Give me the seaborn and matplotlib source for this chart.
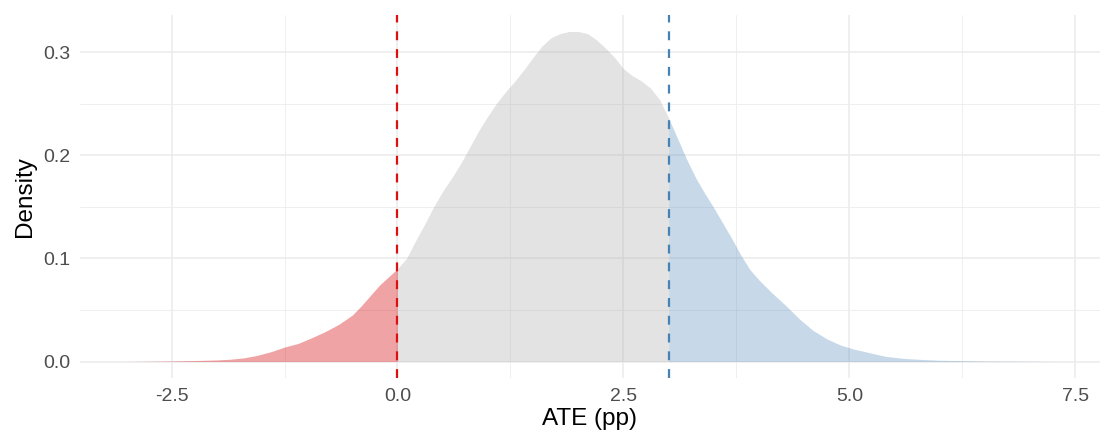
import numpy as np
import pandas as pd
import matplotlib
matplotlib.use('Agg')
import matplotlib.pyplot as plt
import seaborn as sns

# Density of the ATE (pp)
ate = [-3.0, -2.75, -2.5, -2.25, -2.0, -1.85, -1.7, -1.55, -1.4, -1.25, -1.1, -0.95, -0.8,
       -0.65, -0.5, -0.4, -0.3, -0.2, -0.1, 0.0,
       0.1, 0.2, 0.3, 0.4, 0.5, 0.6, 0.7, 0.8, 0.9, 1.0, 1.1, 1.2, 1.3, 1.4, 1.5,
       1.6, 1.7, 1.8, 1.9, 2.0, 2.1, 2.2, 2.3, 2.4, 2.5, 2.6, 2.7, 2.8, 2.9, 3.0,
       3.1, 3.2, 3.3, 3.4, 3.5, 3.6, 3.7, 3.8, 3.9, 4.0, 4.15, 4.3, 4.45, 4.6, 4.75,
       4.9, 5.05, 5.2, 5.4, 5.6, 5.8, 6.0, 6.5, 7.0, 7.26]
density = [0.0, 0.0002, 0.0005, 0.0009, 0.0015, 0.0022, 0.0035, 0.006, 0.0095, 0.014, 0.0175, 0.023, 0.029,
           0.036, 0.045, 0.054, 0.064, 0.074, 0.082, 0.090,
           0.100, 0.117, 0.133, 0.150, 0.165, 0.178, 0.192, 0.208, 0.224, 0.238, 0.251, 0.262, 0.272, 0.283, 0.295,
           0.306, 0.314, 0.318, 0.320, 0.320, 0.318, 0.312, 0.304, 0.295, 0.284, 0.277, 0.272, 0.265, 0.254, 0.236,
           0.216, 0.196, 0.178, 0.163, 0.149, 0.134, 0.119, 0.103, 0.089, 0.079, 0.066, 0.054, 0.041, 0.030, 0.022,
           0.016, 0.012, 0.009, 0.005, 0.003, 0.002, 0.0012, 0.0005, 0.0002, 0.0]

lower_cut = 0.0
upper_cut = 3.0
x_ticks = [-2.5, 0.0, 2.5, 5.0, 7.5]
x_labels = ['-2.5', '0.0', '2.5', '5.0', '7.5']
y_ticks = [0.0, 0.1, 0.2, 0.3]
y_labels = ['0.0', '0.1', '0.2', '0.3']

df = pd.DataFrame({'ate': ate, 'density': density})

sns.set_theme(style='whitegrid')
plt.rcParams['font.family'] = ['Liberation Sans', 'DejaVu Sans']

fig = plt.figure(figsize=(11.1, 4.36), dpi=100)
ax = fig.add_axes([80 / 1110, (436 - 378) / 436, 1020 / 1110, 363 / 436])

# Curve (no visible outline in the original)
sns.lineplot(data=df, x='ate', y='density', ax=ax, linewidth=0, color='grey')

low = df[df['ate'] <= lower_cut]
mid = df[(df['ate'] >= lower_cut) & (df['ate'] <= upper_cut)]
high = df[df['ate'] >= upper_cut]
ax.fill_between(low['ate'], low['density'], color='#D7191C', alpha=0.4, linewidth=0, zorder=2)
ax.fill_between(mid['ate'], mid['density'], color='#B3B3B3', alpha=0.37, linewidth=0, zorder=2)
ax.fill_between(high['ate'], high['density'], color='#4682B4', alpha=0.3, linewidth=0, zorder=2)

ax.axvline(lower_cut, color='#DD0F0F', linewidth=1.6, linestyle=(0, (4, 4)), zorder=3)
ax.axvline(upper_cut, color='#4682B4', linewidth=1.6, linestyle=(0, (4, 4)), zorder=3)

# ggplot-like expansion of the limits
xr = df['ate'].max() - df['ate'].min()
ax.set_xlim(df['ate'].min() - 0.05 * xr, df['ate'].max() + 0.05 * xr)
yr = df['density'].max()
ax.set_ylim(-0.05 * yr, yr * 1.05)

ax.set_xticks(x_ticks)
ax.set_xticklabels(x_labels)
ax.set_yticks(y_ticks)
ax.set_yticklabels(y_labels)
ax.set_xticks([-1.25, 1.25, 3.75, 6.25], minor=True)
ax.set_yticks([0.05, 0.15, 0.25], minor=True)

ax.grid(which='major', color='#EBEBEB', linewidth=1.1)
ax.grid(which='minor', color='#EDEDED', linewidth=0.6)
ax.set_axisbelow(True)
for s in ax.spines.values():
    s.set_visible(False)
ax.tick_params(axis='both', which='both', length=0, colors='#4D4D4D', labelsize=14)
ax.tick_params(axis='x', pad=7)
ax.tick_params(axis='y', pad=7)

ax.set_xlabel('ATE (pp)', fontsize=17.5, color='black', labelpad=2)
ax.set_ylabel('Density', fontsize=17.5, color='black', labelpad=5)

fig.savefig('out.png', dpi=100)
